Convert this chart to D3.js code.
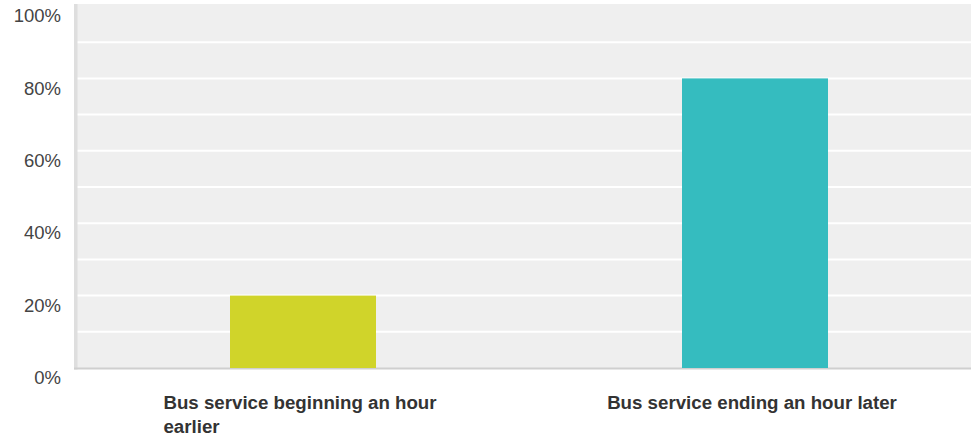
<!DOCTYPE html>
<html>
<head>
<meta charset="utf-8">
<script src="https://cdn.jsdelivr.net/npm/d3@7"></script>
<style>
  html, body { margin: 0; padding: 0; background: #fff; }
  svg { display: block; font-family: "Liberation Sans", Arial, Helvetica, sans-serif; }
</style>
</head>
<body>
<svg id="chart" width="971" height="441"></svg>
<script>
// Survey answers and their share of responses (percent)
const categories = ["Bus service beginning an hour earlier", "Bus service ending an hour later"];
const values = [20, 80];
const barColors = ["#d0d42a", "#35bcbf"];
const yTicks = [0, 20, 40, 60, 80, 100];
const gridTicks = [10, 20, 30, 40, 50, 60, 70, 80, 90];

const svg = d3.select("#chart");
const plot = { left: 77, right: 981, top: 4, bottom: 368 };

const x = d3.scaleBand().domain(categories).range([plot.left, plot.right]).padding(0);
const y = d3.scaleLinear().domain([0, 100]).range([368, 6]);
const barWidth = x.bandwidth() * 0.323;

// plot background
svg.append("rect")
  .attr("x", plot.left).attr("y", plot.top)
  .attr("width", 971 - plot.left).attr("height", plot.bottom - plot.top)
  .attr("fill", "#efefef");

// horizontal grid
svg.append("g").selectAll("line").data(gridTicks).join("line")
  .attr("x1", plot.left).attr("x2", 971)
  .attr("y1", d => y(d)).attr("y2", d => y(d))
  .attr("stroke", "#ffffff").attr("stroke-width", 2);

// left and bottom frame
svg.append("rect").attr("x", 74).attr("y", plot.top).attr("width", 3.5)
  .attr("height", plot.bottom - plot.top + 1.5).attr("fill", "#dedede");
svg.append("line").attr("x1", 74).attr("x2", 971)
  .attr("y1", plot.bottom + 0.5).attr("y2", plot.bottom + 0.5)
  .attr("stroke", "#cfcfcf").attr("stroke-width", 2);

// bars
svg.append("g").selectAll("rect").data(categories).join("rect")
  .attr("x", d => x(d) + x.bandwidth() / 2 - barWidth / 2)
  .attr("width", barWidth)
  .attr("y", (d, i) => y(values[i]))
  .attr("height", (d, i) => y(0) - y(values[i]))
  .attr("fill", (d, i) => barColors[i]);

// y axis labels
const yAxis = d3.axisLeft(y).tickValues(yTicks).tickFormat(d => d + "%").tickSize(0).tickPadding(0);
const yg = svg.append("g").attr("transform", "translate(61,0)").call(yAxis);
yg.select(".domain").remove();
yg.selectAll("text")
  .attr("font-size", "18.5px")
  .attr("font-family", "'Liberation Sans', Arial, Helvetica, sans-serif")
  .attr("fill", "#444")
  .attr("dy", "0.85em")
  .attr("y", 0);

// x axis labels: wrapped, left-aligned block centred on each band
const maxLabelWidth = 300;
const lineHeight = 24;
const xg = svg.append("g");
categories.forEach((cat, i) => {
  const t = xg.append("text")
    .attr("font-size", "18.7px")
    .attr("font-weight", "bold")
    .attr("fill", "#333");
  const words = cat.split(" ");
  let lines = [], cur = [];
  const probe = t.append("tspan");
  words.forEach(w => {
    const test = cur.concat([w]).join(" ");
    probe.text(test);
    if (probe.node().getComputedTextLength() > maxLabelWidth && cur.length) {
      lines.push(cur.join(" "));
      cur = [w];
    } else {
      cur.push(w);
    }
  });
  lines.push(cur.join(" "));
  let blockW = 0;
  lines.forEach(l => { probe.text(l); blockW = Math.max(blockW, probe.node().getComputedTextLength()); });
  probe.remove();
  const cx = x(cat) + x.bandwidth() / 2 - 3;
  const x0 = cx - blockW / 2;
  lines.forEach((l, j) => {
    t.append("tspan").attr("x", x0).attr("y", 409 + j * lineHeight).text(l);
  });
});
</script>
</body>
</html>
